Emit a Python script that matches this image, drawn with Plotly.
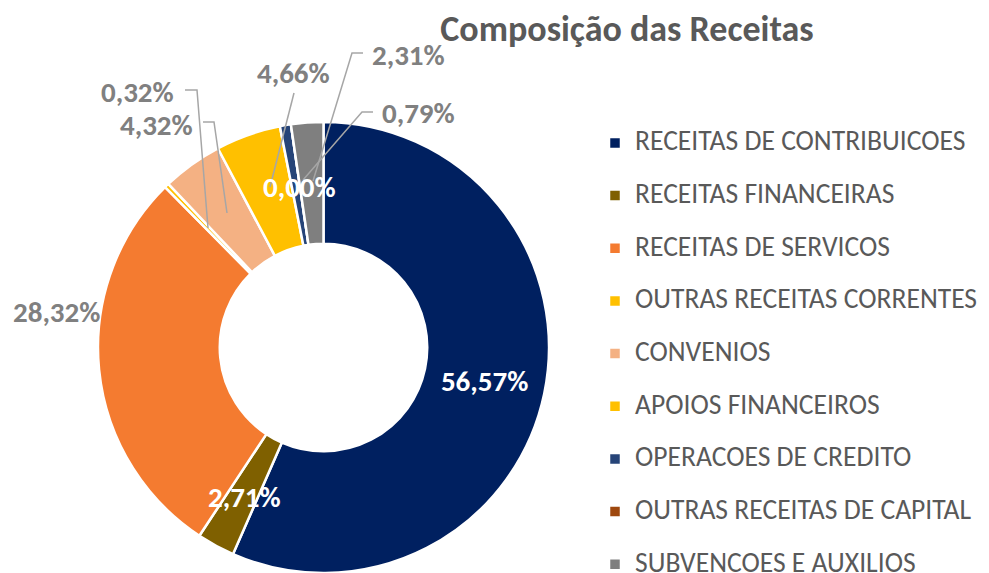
import plotly.graph_objects as go

categories = [
    'RECEITAS DE CONTRIBUICOES',
    'RECEITAS FINANCEIRAS',
    'RECEITAS DE SERVICOS',
    'OUTRAS RECEITAS CORRENTES',
    'CONVENIOS',
    'APOIOS FINANCEIROS',
    'OPERACOES DE CREDITO',
    'OUTRAS RECEITAS DE CAPITAL',
    'SUBVENCOES E AUXILIOS',
]
shares = [56.57, 2.71, 28.32, 0.32, 4.32, 4.66, 0.79, 0.00, 2.31]
colors = ['#002060', '#7F6000', '#F47B30', '#FFC000', '#F4B183',
          '#FFC000', '#264478', '#9E480E', '#7F7F7F']

W, H = 989, 573
PAGE = 8            # the page body margin shifts the figure by 8px
TOP, BOTTOM = 114, 8
PH = H - TOP - BOTTOM
FONT = 'Carlito, Lato, sans-serif'
LABEL_GRAY = '#808080'
LEADER_GRAY = '#A6A6A6'


def px(x, y):
    # window pixel position -> paper coordinates
    return (x - PAGE) / W, (H - BOTTOM - (y - PAGE)) / PH


def pct(v):
    return f'{v:.2f}%'.replace('.', ',')


# label placement (pixel centre, colour, leader line points) per slice index
label_spots = [
    (2, (56, 312), LABEL_GRAY, None),
    (1, (244, 497), 'white', None),
    (3, (137, 92), LABEL_GRAY, [(185, 90), (197, 90), (208, 228)]),
    (4, (156, 125), LABEL_GRAY, [(203, 122), (214, 122), (227, 213)]),
    (5, (293, 73), LABEL_GRAY, [(294, 93), (270, 187)]),
    (7, (299, 187), 'white', None),
    (8, (408, 55), LABEL_GRAY, [(363, 53), (352, 53), (313, 181)]),
    (6, (418, 113), LABEL_GRAY, [(373, 112), (362, 112), (303, 180)]),
]

cx, r = 323.5 - PAGE, 225.5

fig = go.Figure()

fig.add_trace(go.Pie(
    labels=[f"<span style='font-size:27.6px'>{c}</span><br> " for c in categories],
    values=shares,
    sort=False,
    direction='clockwise',
    rotation=0,
    hole=0.46,
    marker=dict(colors=colors, line=dict(color='white', width=2.5)),
    text=[pct(v) if i == 0 else '' for i, v in enumerate(shares)],
    textinfo='text',
    textposition=['inside'] + ['none'] * (len(shares) - 1),
    insidetextorientation='horizontal',
    textfont=dict(family=FONT, size=29, color='white', weight='bold'),
    domain=dict(x=[(cx - r) / W, (cx + r) / W], y=[0, 1]),
    hovertemplate='%{label}: %{value:.2f}%<extra></extra>',
))

shapes = []
annotations = []
for idx, (lx, ly), col, leader in label_spots:
    ax, ay = px(lx, ly)
    annotations.append(dict(
        x=ax, y=ay, xref='paper', yref='paper',
        text=pct(shares[idx]), showarrow=False,
        xanchor='center', yanchor='middle',
        font=dict(family=FONT, size=29, color=col, weight='bold'),
    ))
    if leader:
        pts = [px(x, y) for x, y in leader]
        path = 'M ' + ' L '.join(f'{x},{y}' for x, y in pts)
        shapes.append(dict(type='path', path=path, xref='paper', yref='paper',
                           line=dict(color=LEADER_GRAY, width=1.5)))

fig.update_layout(
    width=W,
    height=H,
    margin=dict(l=0, r=0, t=TOP, b=BOTTOM, autoexpand=False),
    paper_bgcolor='white',
    plot_bgcolor='white',
    separators=',.',
    title=dict(
        text='<b>Composição das Receitas</b>',
        x=(627 - PAGE) / W, xanchor='center', xref='container',
        y=1 - (28 - PAGE) / H, yanchor='middle', yref='container',
        font=dict(family=FONT, size=36, color='#595959'),
    ),
    showlegend=True,
    legend=dict(
        x=(636 - 41 - PAGE) / W, xanchor='left',
        y=1 - 2 / PH, yanchor='top',
        valign='top',
        maxheight=1000,
        font=dict(family=FONT, size=19.1, color='#595959'),
        bgcolor='rgba(0,0,0,0)',
    ),
    shapes=shapes,
    annotations=annotations,
)

fig.write_html('out.html')
